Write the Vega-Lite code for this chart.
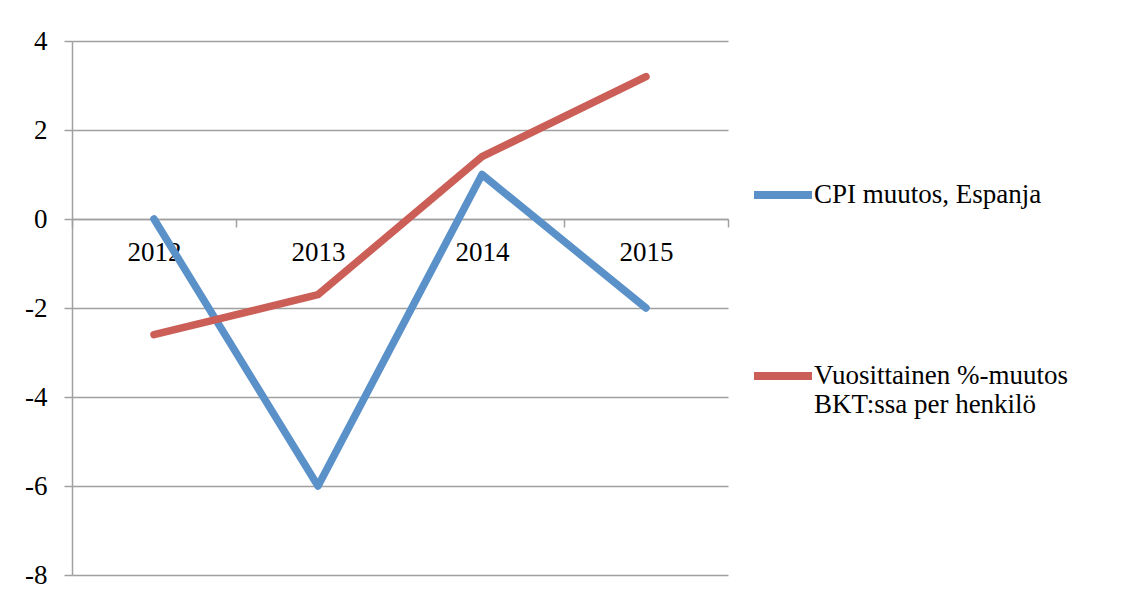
{
  "$schema": "https://vega.github.io/schema/vega-lite/v6.json",
  "width": 656,
  "height": 534,
  "autosize": {"type": "none"},
  "padding": {"left": 72, "top": 41, "right": 403, "bottom": 33},
  "background": "white",
  "config": {"view": {"stroke": null}, "font": "Liberation Serif"},
  "data": {
    "values": [
      {"year": "2012", "series": "CPI muutos, Espanja", "value": 0},
      {"year": "2013", "series": "CPI muutos, Espanja", "value": -6},
      {"year": "2014", "series": "CPI muutos, Espanja", "value": 1},
      {"year": "2015", "series": "CPI muutos, Espanja", "value": -2},
      {"year": "2012", "series": "Vuosittainen %-muutos BKT:ssa per henkilö", "value": -2.6},
      {"year": "2013", "series": "Vuosittainen %-muutos BKT:ssa per henkilö", "value": -1.7},
      {"year": "2014", "series": "Vuosittainen %-muutos BKT:ssa per henkilö", "value": 1.4},
      {"year": "2015", "series": "Vuosittainen %-muutos BKT:ssa per henkilö", "value": 3.2}
    ]
  },
  "mark": {"type": "line", "strokeWidth": 7.5, "strokeCap": "round", "strokeJoin": "round"},
  "encoding": {
    "x": {
      "field": "year",
      "type": "ordinal",
      "bandPosition": 0.5,
      "scale": {"type": "band", "paddingInner": 0, "paddingOuter": 0},
      "axis": {
        "orient": "bottom",
        "offset": -356,
        "title": null,
        "labelAngle": 0,
        "tickBand": "extent",
        "grid": false,
        "domainColor": "#A0A0A0",
        "domainWidth": 1.5,
        "tickColor": "#A0A0A0",
        "tickWidth": 1.5,
        "tickSize": 8,
        "labelPadding": 12,
        "labelFontSize": 27,
        "labelColor": "black"
      }
    },
    "y": {
      "field": "value",
      "type": "quantitative",
      "scale": {"domain": [-8, 4], "nice": false, "zero": false},
      "axis": {
        "title": null,
        "values": [-8, -6, -4, -2, 0, 2, 4],
        "labelExpr": "toString(datum.value)",
        "grid": true,
        "gridColor": "#A0A0A0",
        "gridWidth": 1.5,
        "domainColor": "#A0A0A0",
        "domainWidth": 1.5,
        "tickColor": "#A0A0A0",
        "tickWidth": 1.5,
        "tickSize": 8,
        "labelPadding": 17,
        "labelFontSize": 27,
        "labelColor": "black"
      }
    },
    "color": {
      "field": "series",
      "type": "nominal",
      "scale": {
        "domain": ["CPI muutos, Espanja", "Vuosittainen %-muutos BKT:ssa per henkilö"],
        "range": ["#5B91C9", "#CB5F57"]
      },
      "legend": {
        "orient": "none",
        "legendX": 678,
        "legendY": 121,
        "title": null,
        "symbolType": "stroke",
        "symbolStrokeWidth": 8,
        "symbolSize": 3364,
        "labelFontSize": 27,
        "labelColor": "black",
        "labelLimit": 400,
        "labelOffset": -2,
        "rowPadding": 132,
        "labelExpr": "datum.label == 'CPI muutos, Espanja' ? datum.label : ['Vuosittainen %-muutos', 'BKT:ssa per henkilö']"
      }
    }
  }
}
